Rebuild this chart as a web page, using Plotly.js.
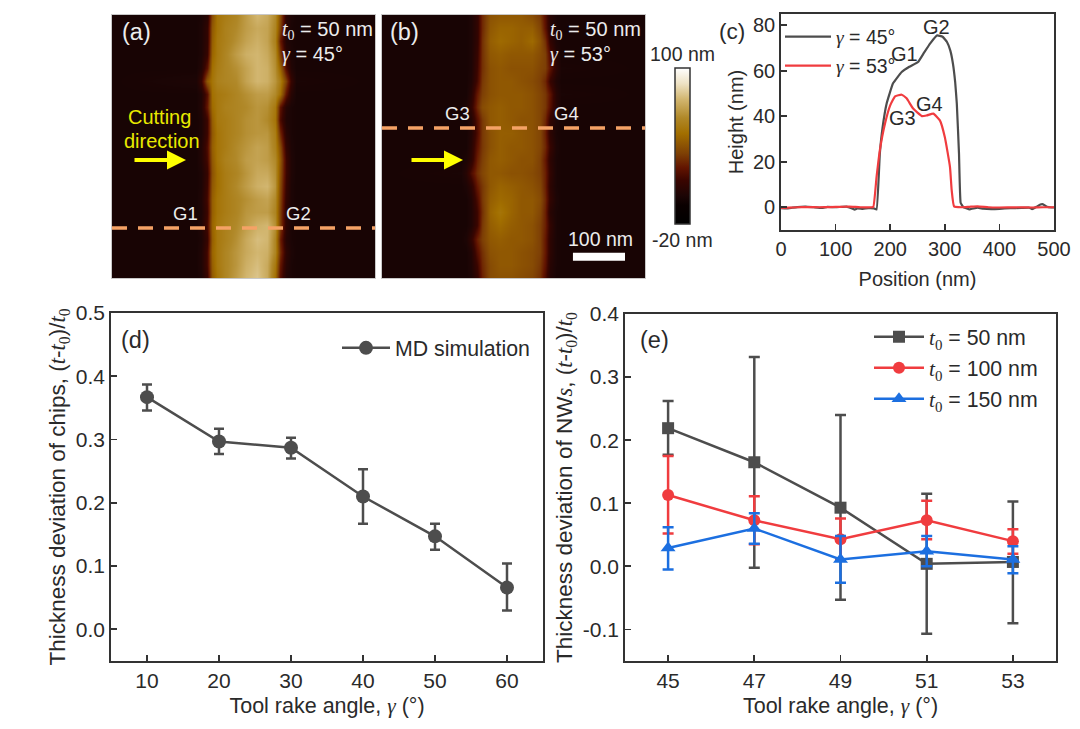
<!DOCTYPE html>
<html>
<head>
<meta charset="utf-8">
<script src="https://cdn.plot.ly/plotly-3.0.1.min.js"></script>
<style>body{margin:0;background:#fff}#chart{width:1080px;height:729px}</style>
</head>
<body>
<div id="chart"></div>
<script>
// AFM height maps (nm), rows run top to bottom of the image
var mapY = [0,25,50,75,100,125,150,175,200,225,250,275,300,325,350,375,400,425,450,475,500];
var mapAX = [0,160,170,180,190,200,215,235,255,275,295,310,320,330,340,350,500];
var mapAZ = [
  [0,0,1,6,38,52,56,60,68,76,72,62,38,8,2,0,0],
  [0,0,2,10,42,52,58,62,68,72,70,60,35,6,1,0,0],
  [0,0,2,10,44,54,58,64,70,74,70,58,25,4,1,0,0],
  [0,0,2,12,46,54,60,68,74,76,72,62,34,8,2,0,0],
  [0,0,4,22,50,56,60,64,70,76,74,64,46,18,4,0,0],
  [0,2,12,42,52,58,60,62,70,76,74,66,56,34,12,1,0],
  [0,0,3,20,50,54,56,60,64,68,68,62,50,22,6,0,0],
  [0,0,4,24,48,54,58,60,62,66,64,54,22,5,1,0,0],
  [0,0,2,14,44,54,56,60,64,66,62,52,18,3,1,0,0],
  [0,0,2,14,42,52,56,60,64,66,66,56,28,6,1,0,0],
  [0,0,4,18,44,52,56,62,66,70,68,58,38,10,2,0,0],
  [0,0,4,16,42,52,58,62,68,70,68,62,42,14,3,0,0],
  [0,0,2,12,40,50,56,60,66,72,72,64,40,14,3,0,0],
  [0,0,2,14,42,50,56,62,68,74,76,66,38,12,2,0,0],
  [0,0,3,16,44,52,56,60,64,68,70,62,36,10,2,0,0],
  [0,0,2,14,44,52,56,60,66,68,68,60,34,8,1,0,0],
  [0,0,3,16,46,54,58,62,68,74,76,64,34,8,1,0,0],
  [0,0,2,12,44,54,58,64,72,78,76,60,26,5,1,0,0],
  [0,0,3,16,46,54,60,66,72,76,74,60,30,8,2,0,0],
  [0,0,3,16,44,54,60,66,74,78,72,54,24,6,1,0,0],
  [0,0,2,12,42,52,60,68,76,80,72,50,20,4,1,0,0]
];
var mapBX = [0,150,160,170,180,190,205,225,245,265,285,300,310,320,330,340,500];
var mapBZ = [
  [0,0,0,2,10,28,40,42,42,42,38,32,20,6,1,0,0],
  [0,0,0,2,10,28,42,46,46,44,44,36,22,6,1,0,0],
  [0,0,0,2,10,30,44,48,46,44,48,40,30,10,2,0,0],
  [0,0,0,2,12,30,42,44,42,42,42,38,34,18,4,0,0],
  [0,0,0,2,14,30,40,42,40,40,40,36,34,22,8,1,0],
  [0,0,0,3,16,32,40,42,42,40,38,34,28,12,3,0,0],
  [0,0,0,6,24,34,40,42,42,42,40,36,32,22,6,1,0],
  [0,0,2,10,28,38,42,44,42,42,40,36,32,20,6,0,0],
  [0,0,0,4,20,32,42,44,42,40,40,36,28,10,2,0,0],
  [0,0,0,4,18,32,40,44,44,42,40,36,26,8,1,0,0],
  [0,0,0,6,22,32,40,44,42,42,40,36,28,12,2,0,0],
  [0,0,2,8,26,34,42,44,42,40,40,34,24,8,1,0,0],
  [0,1,6,18,30,36,42,42,40,40,38,34,26,10,1,0,0],
  [0,0,2,8,24,32,42,46,44,42,40,36,26,8,1,0,0],
  [0,0,0,4,18,32,44,48,46,42,42,38,28,10,2,0,0],
  [0,0,0,3,14,30,46,52,46,42,42,36,26,6,1,0,0],
  [0,0,0,3,14,32,44,48,44,42,40,34,26,10,1,0,0],
  [0,0,2,10,26,34,42,44,42,42,40,34,24,8,1,0,0],
  [0,0,0,4,20,30,40,42,42,40,38,34,24,8,1,0,0],
  [0,0,0,3,14,28,38,42,42,40,38,32,22,6,1,0,0],
  [0,0,0,2,10,26,38,40,40,38,36,30,18,4,0,0,0]
];
var cutX = [0,500];
var cutAY = [405,405];
var cutBY = [215,215];
var scaleBarX = [363,462];
var scaleBarY = [452,467];

// panel c: line profiles
var pos45 = [0,10,20,30,45,60,75,85,100,120,130,135,140,150,160,170,175,181,186,193.5,205,221,235,251,262,273,286,296,304,310,315,319,322,326,329,334,340,345,360,370,385,400,420,440,455,460,468,475,480,487,495,500];
var h45 = [-0.4,-0.5,-0.2,0.1,0.3,0,-0.3,0.2,0,0.3,-0.5,-1,-0.5,-0.7,-0.4,-0.5,-1,23.6,35,45.6,54.4,59.5,61.8,63.9,68,72,75.6,75,72.7,69,63,55,45.6,23.6,2,0,-0.5,-0.9,-0.2,-0.6,-0.8,-0.7,-0.4,-0.3,-0.2,-0.8,0.2,1.2,1.3,0.2,-0.1,-0.1];
var pos53 = [0,15,30,50,70,90,110,125,145,165,169,175,181,190.5,200,209,221,230,242,258,267,279,291,300,309.5,312.6,317,330,345,360,380,400,430,460,480,500];
var h53 = [-0.3,-0.2,0,0.1,0,0.1,0.2,0.3,0,0,0.1,13.3,25,36.8,44.8,48.8,49.5,47.9,43.4,40.1,40.4,41.2,38.2,30.9,17.7,7.5,0.4,0,0.2,0.4,0,-0.1,0,-0.1,0,0];

// panel d: MD simulation
var rakeD = [10,20,30,40,50,60];
var devD = [0.367,0.297,0.287,0.210,0.147,0.066];
var devDUp = [0.020,0.020,0.016,0.043,0.020,0.038];
var devDDown = [0.021,0.020,0.017,0.043,0.021,0.036];

// panel e: experiments
var rakeE = [45,47,49,51,53];
var dev50 = [0.219,0.165,0.093,0.004,0.007];
var dev50Up = [0.043,0.167,0.147,0.111,0.096];
var dev50Down = [0.042,0.167,0.146,0.111,0.097];
var dev100 = [0.113,0.073,0.043,0.073,0.040];
var dev100Up = [0.062,0.038,0.033,0.031,0.019];
var dev100Down = [0.061,0.038,0.032,0.030,0.020];
var dev150 = [0.029,0.060,0.011,0.024,0.011];
var dev150Up = [0.033,0.024,0.037,0.024,0.021];
var dev150Down = [0.034,0.024,0.037,0.024,0.022];

// tick labels
var ticksCX = [0,100,200,300,400,500];
var ticksCY = [0,20,40,60,80];
var ticksDY = [0,0.1,0.2,0.3,0.4,0.5];
var labelsDY = ['0.0','0.1','0.2','0.3','0.4','0.5'];
var ticksEY = [-0.1,0,0.1,0.2,0.3,0.4];
var labelsEY = ['-0.1','0.0','0.1','0.2','0.3','0.4'];

var W = 1080, H = 729;
var SANS = 'Liberation Sans, Arial, sans-serif';
var INK = '#2a2a2a', GRAY = '#4d4d4d', RED = '#f03c3f', BLUE = '#1c6fe0';
var ORANGE = '#f5a266', YELLOW = '#ffff00';

function domX(l, r) { return [l / W, r / W]; }
function domY(t, b) { return [1 - b / H, 1 - t / H]; }
function sym(s) { return '<span style="font-family:\'Liberation Serif\'"><i>' + s + '</i></span>'; }
var T0 = '<span style="font-family:\'Liberation Serif\'"><i>t</i><sub>0</sub></span>';

var afmScale = [
  [0, '#000000'], [0.12, '#0a0000'], [0.18, '#1c0505'], [0.28, '#3a0500'], [0.36, '#621400'],
  [0.45, '#7d3f05'], [0.58, '#a26f00'], [0.68, '#b08828'], [0.8, '#d2b670'], [0.9, '#eee2c4'], [1, '#ffffff']
];

var traces = [
  { type: 'heatmap', x: mapAX, y: mapY, z: mapAZ, xaxis: 'x', yaxis: 'y', zmin: -20, zmax: 100, zsmooth: 'best',
    colorscale: afmScale, hoverinfo: 'skip', showscale: true,
    colorbar: { x: 675 / W, xanchor: 'left', y: 1 - 224 / H, yanchor: 'bottom', lenmode: 'pixels', len: 156,
      thicknessmode: 'pixels', thickness: 15, xpad: 0, ypad: 0, outlinecolor: '#333', outlinewidth: 1.5,
      showticklabels: false, ticks: '' } },
  { type: 'heatmap', x: mapBX, y: mapY, z: mapBZ, xaxis: 'x2', yaxis: 'y2', zmin: -20, zmax: 100, zsmooth: 'best',
    colorscale: afmScale, hoverinfo: 'skip', showscale: false },
  { type: 'scatter', mode: 'lines', x: cutX, y: cutAY, xaxis: 'x', yaxis: 'y', showlegend: false,
    line: { color: ORANGE, width: 3.5, dash: '15px,11px' } },
  { type: 'scatter', mode: 'lines', x: cutX, y: cutBY, xaxis: 'x2', yaxis: 'y2', showlegend: false,
    line: { color: ORANGE, width: 3.5, dash: '15px,11px' } },
  { type: 'scatter', mode: 'lines', x: pos45, y: h45, xaxis: 'x3', yaxis: 'y3', name: sym('γ') + ' = 45°',
    line: { color: GRAY, width: 2.2, shape: 'spline', smoothing: 0.3 }, showlegend: true, legend: 'legend' },
  { type: 'scatter', mode: 'lines', x: pos53, y: h53, xaxis: 'x3', yaxis: 'y3', name: sym('γ') + ' = 53°',
    line: { color: RED, width: 2.2, shape: 'spline', smoothing: 0.4 }, showlegend: true, legend: 'legend2' },
  { type: 'scatter', mode: 'lines+markers', x: rakeD, y: devD, xaxis: 'x4', yaxis: 'y4', name: 'MD simulation',
    line: { color: GRAY, width: 2.5 }, marker: { color: GRAY, size: 14, symbol: 'circle' },
    error_y: { type: 'data', array: devDUp, arrayminus: devDDown, color: GRAY, thickness: 2.5, width: 5 },
    showlegend: true, legend: 'legend3' },
  { type: 'scatter', mode: 'lines+markers', x: rakeE, y: dev50, xaxis: 'x5', yaxis: 'y5', name: T0 + ' = 50 nm',
    line: { color: GRAY, width: 2.5 }, marker: { color: GRAY, size: 12, symbol: 'square' },
    error_y: { type: 'data', array: dev50Up, arrayminus: dev50Down, color: GRAY, thickness: 2.5, width: 5.5 },
    showlegend: true, legend: 'legend4' },
  { type: 'scatter', mode: 'lines+markers', x: rakeE, y: dev100, xaxis: 'x5', yaxis: 'y5', name: T0 + ' = 100 nm',
    line: { color: RED, width: 2.5 }, marker: { color: RED, size: 12, symbol: 'circle' },
    error_y: { type: 'data', array: dev100Up, arrayminus: dev100Down, color: RED, thickness: 2.5, width: 5.5 },
    showlegend: true, legend: 'legend5' },
  { type: 'scatter', mode: 'lines+markers', x: rakeE, y: dev150, xaxis: 'x5', yaxis: 'y5', name: T0 + ' = 150 nm',
    line: { color: BLUE, width: 2.5 }, marker: { color: BLUE, size: 13, symbol: 'triangle-up' },
    error_y: { type: 'data', array: dev150Up, arrayminus: dev150Down, color: BLUE, thickness: 2.5, width: 5.5 },
    showlegend: true, legend: 'legend6' }
];

function imgAxis(dom, anchor, rev) {
  return { domain: dom, anchor: anchor, range: rev ? [500, 0] : [0, 500], showgrid: false, zeroline: false,
    showticklabels: false, ticks: '', showline: true, mirror: true, linecolor: '#c8c8c8', linewidth: 1 };
}
function plotAxis(dom, anchor, range, vals, text, title, standoff, size, tickSize) {
  var ax = { domain: dom, anchor: anchor, range: range, showgrid: false, zeroline: false, showline: true, mirror: true,
    linecolor: '#333', linewidth: 1.8, ticks: 'inside', ticklen: 6, tickwidth: 1.8, tickcolor: '#333',
    tickmode: 'array', tickvals: vals, tickfont: { size: tickSize, color: INK },
    title: { text: title, standoff: standoff, font: { size: size, color: INK } } };
  ax.ticktext = text || vals.map(String);
  return ax;
}
function legendAt(px, py, size, itemWidth) {
  return { x: px / W, y: 1 - py / H, xanchor: 'left', yanchor: 'middle', bgcolor: 'rgba(0,0,0,0)', borderwidth: 0,
    font: { size: size, color: INK, family: SANS }, itemwidth: itemWidth, itemclick: false, itemdoubleclick: false };
}
function note(px, py, text, size, color) {
  return { xref: 'paper', yref: 'paper', x: px / W, y: 1 - py / H, text: text, showarrow: false, xanchor: 'center', yanchor: 'middle',
    font: { size: size, color: color || INK, family: SANS } };
}
function noteLeft(px, py, text, size, color) {
  var n = note(px, py, text, size, color);
  n.xanchor = 'left';
  return n;
}
function arrow(px, py, len) {
  return { xref: 'paper', yref: 'paper', x: px / W, y: 1 - py / H, ax: -len, ay: 0, text: '', showarrow: true,
    arrowcolor: YELLOW, arrowwidth: 4, arrowhead: 2, arrowsize: 0.95, standoff: 0 };
}

var PALE = '#ececec';
var annotations = [
  note(136, 32, '(a)', 23.5, PALE),
  noteLeft(280, 31, T0 + ' = 50 nm', 20, PALE),
  noteLeft(280, 55, sym('γ') + ' = 45°', 20, PALE),
  note(159, 117, 'Cutting', 20, '#e9e900'),
  note(162, 141, 'direction', 20, '#e9e900'),
  arrow(186, 160, 53),
  note(185, 213, 'G1', 18.5, PALE),
  note(298, 213, 'G2', 18.5, PALE),
  note(404, 32, '(b)', 23.5, PALE),
  noteLeft(548, 31, T0 + ' = 50 nm', 20, PALE),
  noteLeft(548, 55, sym('γ') + ' = 53°', 20, PALE),
  note(457, 114, 'G3', 18.5, PALE),
  note(566, 114, 'G4', 18.5, PALE),
  arrow(463, 160, 53),
  note(600, 239, '100 nm', 19.5, PALE),
  note(682, 54, '100 nm', 19.5, INK),
  note(682, 240, '-20 nm', 19.5, INK),
  note(732, 32, '(c)', 22.5, INK),
  note(905, 54, 'G1', 20, INK),
  note(936, 27, 'G2', 20, INK),
  note(902, 118, 'G3', 20, INK),
  note(929, 104, 'G4', 20, INK),
  note(135, 340, '(d)', 23.5, INK),
  note(654, 340, '(e)', 23.5, INK)
];

var layout = {
  width: W, height: H, margin: { l: 0, r: 0, t: 0, b: 0 }, paper_bgcolor: '#fff', plot_bgcolor: '#fff',
  font: { family: SANS, color: INK },
  xaxis: imgAxis(domX(112, 375), 'y'),
  yaxis: imgAxis(domY(15, 278), 'x', true),
  xaxis2: imgAxis(domX(382, 645), 'y2'),
  yaxis2: imgAxis(domY(15, 278), 'x2', true),
  xaxis3: plotAxis(domX(781, 1054), 'y3', [0, 500], ticksCX, null, 'Position (nm)', 13, 20, 20),
  yaxis3: plotAxis(domY(14, 230), 'x3', [-10, 85], ticksCY, null, 'Height (nm)', 4, 20, 20),
  xaxis4: plotAxis(domX(111, 543), 'y4', [5, 65], rakeD, null, 'Tool rake angle, ' + sym('γ') + ' (°)', 7, 21.5, 21),
  yaxis4: plotAxis(domY(313, 661), 'x4', [-0.05, 0.5], ticksDY, labelsDY,
    'Thickness deviation of chips, (' + sym('t') + '-' + T0 + ')/' + T0, 4, 22.5, 21),
  xaxis5: plotAxis(domX(625, 1056), 'y5', [44, 54], rakeE, null, 'Tool rake angle, ' + sym('γ') + ' (°)', 7, 21.5, 21),
  yaxis5: plotAxis(domY(314, 661), 'x5', [-0.15, 0.4], ticksEY, labelsEY,
    'Thickness deviation of NW' + sym('s') + ', (' + sym('t') + '-' + T0 + ')/' + T0, 4, 22.5, 21),
  legend: legendAt(780, 37, 19.5, 46),
  legend2: legendAt(780, 66, 19.5, 46),
  legend3: legendAt(337, 348, 21.3, 48),
  legend4: legendAt(869, 337, 21.3, 50),
  legend5: legendAt(869, 368, 21.3, 50),
  legend6: legendAt(869, 399, 21.3, 50),
  shapes: [
    { type: 'rect', xref: 'x2', yref: 'y2', x0: scaleBarX[0], x1: scaleBarX[1], y0: scaleBarY[0], y1: scaleBarY[1],
      fillcolor: '#ffffff', line: { width: 0 } }
  ],
  annotations: annotations
};

Plotly.newPlot('chart', traces, layout, { displayModeBar: false, staticPlot: true });
</script>
</body>
</html>
